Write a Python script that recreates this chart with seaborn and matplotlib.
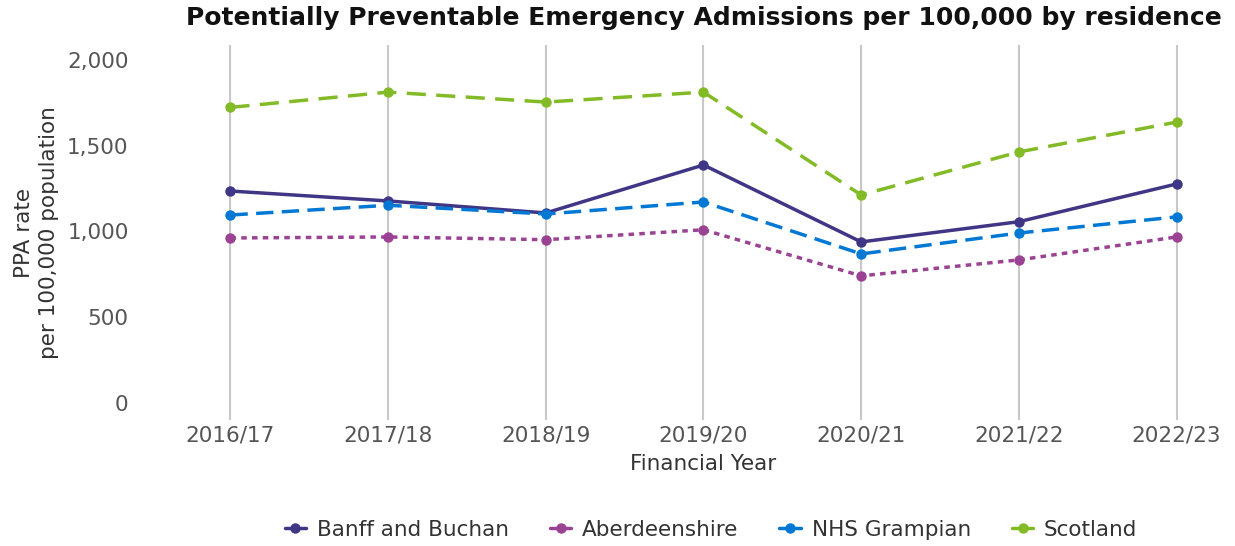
import matplotlib
matplotlib.use("Agg")
import matplotlib.pyplot as plt
from matplotlib.lines import Line2D
import seaborn as sns
import pandas as pd

years = ["2016/17", "2017/18", "2018/19", "2019/20", "2020/21", "2021/22", "2022/23"]
banff_buchan = [1236, 1178, 1108, 1388, 939, 1057, 1277]
aberdeenshire = [962, 968, 952, 1010, 741, 834, 968]
nhs_grampian = [1096, 1153, 1102, 1172, 869, 991, 1085]
scotland = [1724, 1813, 1755, 1813, 1213, 1464, 1638]

series_names = ["Banff and Buchan", "Aberdeenshire", "NHS Grampian", "Scotland"]
series_values = [banff_buchan, aberdeenshire, nhs_grampian, scotland]
colours = {"Banff and Buchan": "#3F3685", "Aberdeenshire": "#9B4393",
           "NHS Grampian": "#0078D4", "Scotland": "#83BB26"}
dash_styles = {"Banff and Buchan": "", "Aberdeenshire": (1.6, 1.5),
               "NHS Grampian": (5, 2.4), "Scotland": (5.5, 3)}

rows = []
for name, vals in zip(series_names, series_values):
    for i, (yr, v) in enumerate(zip(years, vals)):
        rows.append({"idx": i, "year": yr, "rate": v, "area": name})
df = pd.DataFrame(rows)

sns.set_theme(style="white")
plt.rcParams["font.family"] = ["DejaVu Sans"]

FS = 15.5

fig = plt.figure(figsize=(12.35, 5.46), dpi=100)
ax = fig.add_axes([180 / 1235, 1 - 420 / 546, (1227 - 180) / 1235, (420 - 45) / 546])

sns.lineplot(data=df, x="idx", y="rate", hue="area", style="area",
             hue_order=series_names, style_order=series_names,
             palette=colours, dashes=dash_styles, markers={n: "o" for n in series_names},
             markersize=7.5, markeredgewidth=0, linewidth=2.5, ax=ax, legend=False)

ax.set_xlim(-0.32, 6.32)
ax.set_ylim(-100, 2088)
ax.set_xticks(range(len(years)))
ax.set_xticklabels(years)
ax.set_yticks([0, 500, 1000, 1500, 2000])
ax.set_yticklabels(["0", "500", "1,000", "1,500", "2,000"])
ax.tick_params(axis="both", labelsize=FS, labelcolor="#555555", length=0)
ax.tick_params(axis="y", pad=37)
ax.tick_params(axis="x", pad=4)
ax.grid(axis="x", color="#c8c8c8", linewidth=1.5)
ax.grid(axis="y", visible=False)
for s in ax.spines.values():
    s.set_visible(False)

ax.set_xlabel("Financial Year", fontsize=FS, color="#333333", labelpad=6)
ax.set_ylabel("PPA rate\nper 100,000 population", fontsize=FS, color="#333333",
              labelpad=6, linespacing=1.3)

fig.text(704 / 1235, 1 - 18 / 546, "Potentially Preventable Emergency Admissions per 100,000 by residence",
         ha="center", va="center", fontsize=18, fontweight="bold", color="#111111")

# legend keys: short solid line with a dot for each area
handles = [Line2D([], [], color=colours[n], linewidth=2.5, marker="o", markersize=7.5,
                  markeredgewidth=0) for n in series_names]
leg = fig.legend(handles=handles, labels=series_names, loc="center",
                 bbox_to_anchor=(711 / 1235, 1 - 530 / 546), ncol=4, frameon=False,
                 fontsize=FS, handlelength=1.0, handletextpad=0.5, columnspacing=1.9)
for t in leg.get_texts():
    t.set_color("#333333")

fig.savefig("out.png", dpi=100)
